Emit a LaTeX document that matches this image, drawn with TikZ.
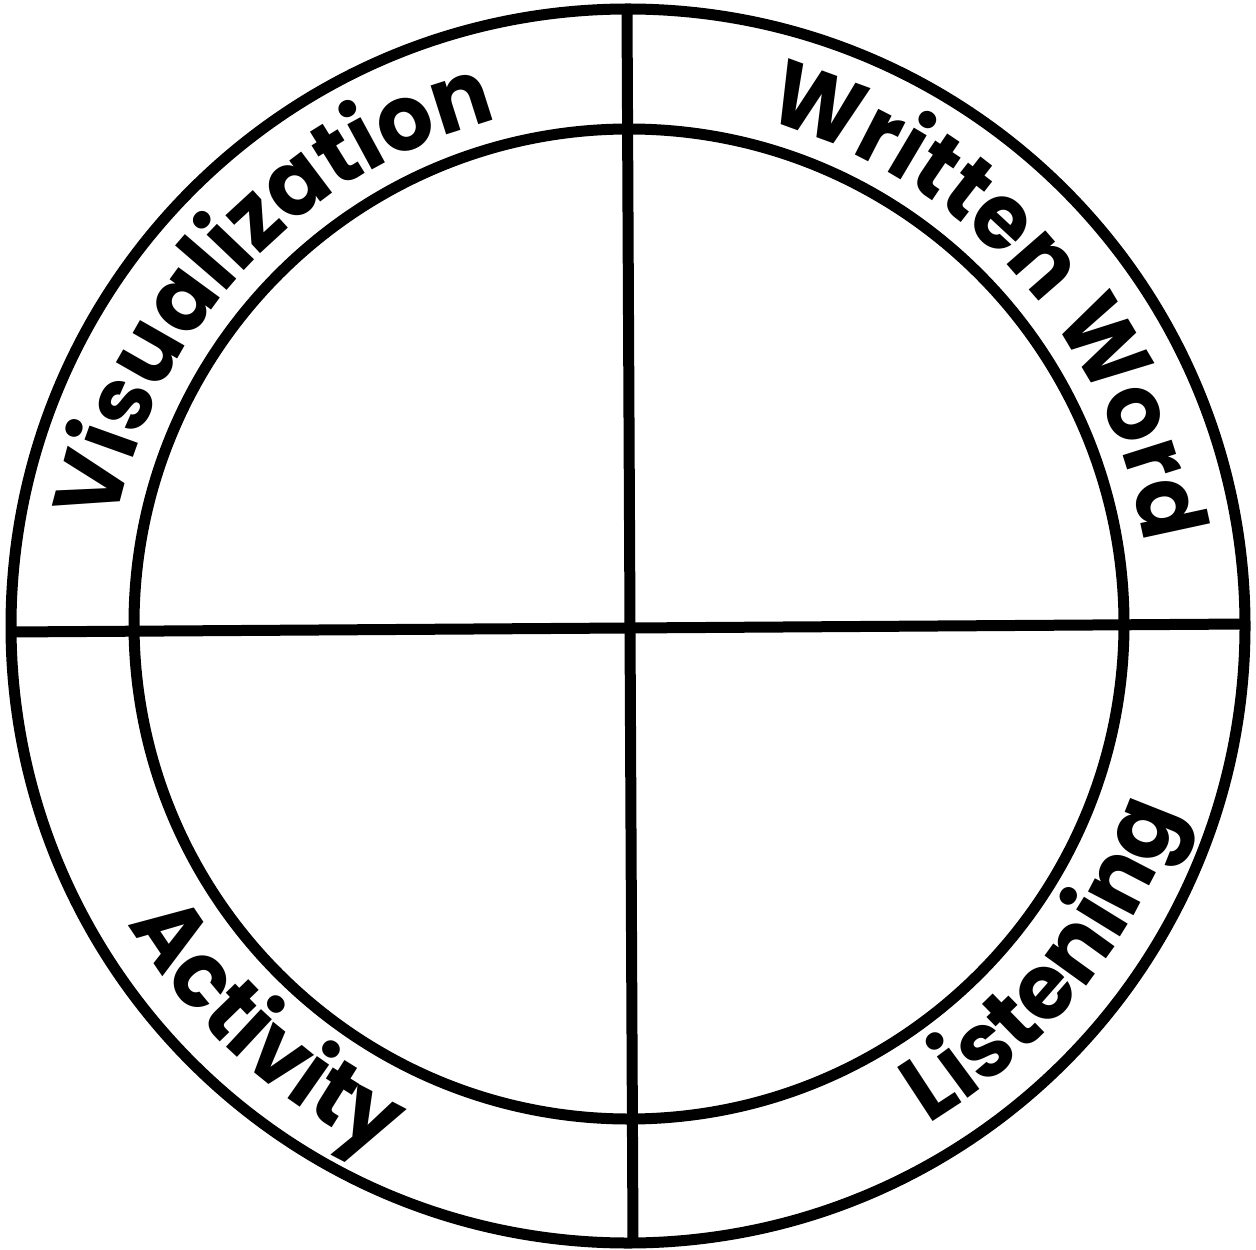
\documentclass[tikz,border=0pt]{standalone}
\usepackage{fontspec}
\setmainfont{Poppins}
\newfontfamily\ringfamily[FakeStretch=0.95]{Poppins}
\usetikzlibrary{decorations.text}
\newcommand{\ringfont}{\ringfamily\bfseries\fontsize{46}{54}\selectfont}
\tikzset{
  ringline/.style={line width=5.5pt, draw=black},
  ringtext/.style={decorate, decoration={text along path, text align=center,
     text format delimiters={|}{|}, text={|\ringfont|#1}}}
}
\begin{document}
\begin{tikzpicture}[x=0.5pt,y=0.5pt]
\useasboundingbox (0,0) rectangle (1256,1249);
\fill[white] (0,0) rectangle (1256,1249);
\coordinate (co) at (628,623);
\coordinate (ci) at (629,625);
\coordinate (vtop) at (627,1240);
\coordinate (vbot) at (633,7);
\coordinate (hl) at (9,617);
\coordinate (hr) at (1247,625);
\draw[ringline] (co) circle[radius=617];
\draw[ringline] (ci) circle[radius=495];
\draw[ringline] (vtop) -- (vbot);
\draw[ringline] (hl) -- (hr);
% top texts (clockwise, tops outward)
\path[ringtext={Visualization}] (co) ++(181.6:523) arc[start angle=181.6, end angle=91.6, radius=523];
\path[ringtext={Written Word}] (co) ++(87:523) arc[start angle=87, end angle=-3, radius=523];
% bottom texts (counterclockwise, tops inward)
\path[ringtext={Listening}] (co) ++(-83.8:582) arc[start angle=-83.8, end angle=6.2, radius=582];
\path[ringtext={Activity}] (co) ++(183:582) arc[start angle=183, end angle=273, radius=582];
\end{tikzpicture}
\end{document}
